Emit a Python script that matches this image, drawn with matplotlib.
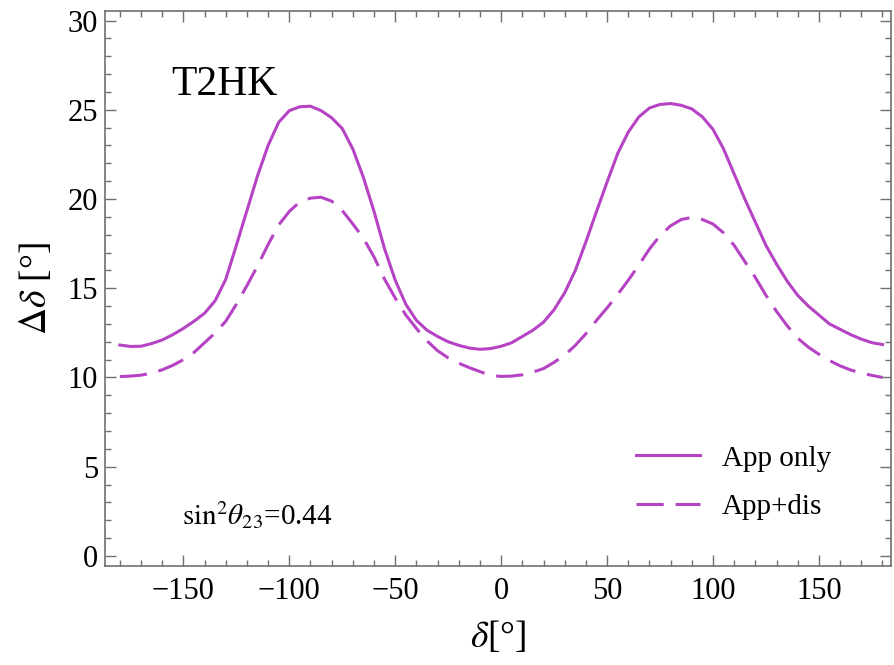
import matplotlib
matplotlib.use("Agg")
import matplotlib.pyplot as plt
from matplotlib.ticker import MultipleLocator

# delta_CP grid (degrees), 5 deg steps
delta = list(range(-180, 181, 5))

# precision on delta, appearance only
app_only = [11.82, 11.74, 11.75, 11.9, 12.1, 12.4, 12.75, 13.15, 13.6, 14.3,
            15.5, 17.4, 19.35, 21.3, 23.0, 24.3, 24.95, 25.17, 25.2, 24.95,
            24.55, 23.95, 22.8, 21.2, 19.3, 17.2, 15.45, 14.1, 13.2, 12.65,
            12.3, 12.0, 11.8, 11.65, 11.58, 11.62, 11.75, 11.95, 12.3, 12.65,
            13.1, 13.8, 14.75, 16.0, 17.6, 19.3, 20.95, 22.55, 23.75, 24.6,
            25.1, 25.3, 25.35, 25.25, 25.05, 24.6, 23.9, 22.8, 21.4, 20.0,
            18.7, 17.4, 16.35, 15.4, 14.6, 14.0, 13.5, 13.0, 12.7, 12.4,
            12.15, 11.95, 11.85]

# appearance + disappearance
app_dis = [10.05, 10.08, 10.13, 10.25, 10.43, 10.68, 11.0, 11.4, 11.95, 12.5,
           13.15, 14.1, 15.15, 16.25, 17.45, 18.55, 19.3, 19.85, 20.05, 20.1,
           19.88, 19.35, 18.6, 17.8, 16.75, 15.5, 14.45, 13.5, 12.75, 12.05,
           11.5, 11.1, 10.8, 10.55, 10.33, 10.12, 10.06, 10.08, 10.15, 10.3,
           10.5, 10.85, 11.25, 11.8, 12.45, 13.2, 13.9, 14.65, 15.45, 16.3,
           17.2, 17.95, 18.5, 18.85, 18.97, 18.85, 18.6, 18.1, 17.4, 16.5,
           15.6, 14.6, 13.7, 12.9, 12.2, 11.7, 11.3, 10.95, 10.65, 10.42,
           10.25, 10.12, 10.0]

col = "#b543c4"
plt.rcParams["font.family"] = ["Liberation Serif", "DejaVu Serif"]
plt.rcParams["mathtext.fontset"] = "stix"

fig = plt.figure(figsize=(8.95, 6.65), dpi=100)
ax = fig.add_axes([0.1173, 0.1489, 0.8782, 0.835])

ax.plot(delta, app_only, color=col, lw=2.2, label="App only",
        solid_joinstyle="round")
ax.plot(delta, app_dis, color=col, lw=2.2, dashes=(8.9, 3.9), label="App+dis")

ax.set_xlim(-187, 184)
ax.set_ylim(-0.56, 30.55)
ax.xaxis.set_major_locator(MultipleLocator(50))
ax.xaxis.set_minor_locator(MultipleLocator(10))
ax.yaxis.set_major_locator(MultipleLocator(5))
ax.yaxis.set_minor_locator(MultipleLocator(1))

ax.tick_params(which="both", direction="in", top=True, right=True,
               color="#707070", width=1.0)
ax.tick_params(which="major", length=8, labelsize=22)
ax.tick_params(which="minor", length=4.5)
ax.tick_params(axis="x", which="major", pad=8)
ax.tick_params(axis="y", which="major", pad=5)
for s in ax.spines.values():
    s.set_color("#707070")
    s.set_linewidth(1.2)

# unicode minus in Times-like fonts
ax.set_xticks([-150, -100, -50, 0, 50, 100, 150])
ax.set_xticklabels(["\u2212150", "\u2212100", "\u221250", "0", "50", "100", "150"])

ax.set_xlabel(r"$\delta$[°]", fontsize=27, labelpad=9)
ax.set_ylabel(r"$\Delta\delta$ [°]", fontsize=27, labelpad=10)

ax.text(-155.5, 25.8, "T2HK", fontsize=30, va="baseline", ha="left")
ax.text(-150.8, 1.74, r"$\mathrm{sin}^2\theta_{23}$=0.44", fontsize=21,
        va="baseline", ha="left")

leg = ax.legend(loc="center left", bbox_to_anchor=(0.7106, 0.2744),
                bbox_transform=fig.transFigure, frameon=False, fontsize=21,
                handlelength=2.2, handletextpad=0.75, labelspacing=0.75,
                borderpad=0, borderaxespad=0)

fig.savefig("out.png", dpi=100)
